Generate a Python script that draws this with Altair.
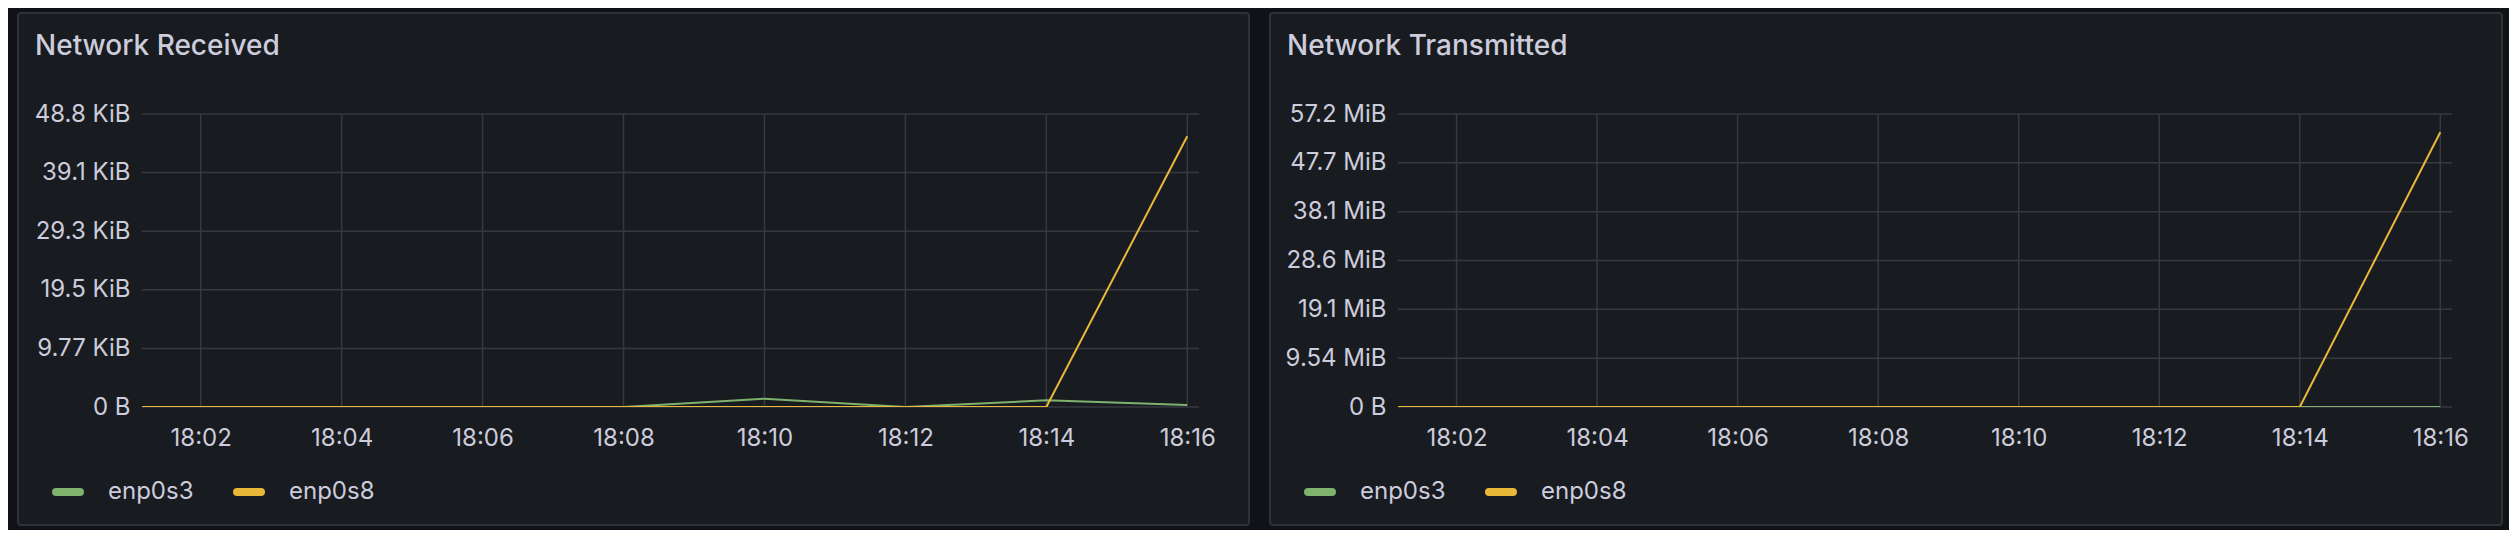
import json
import altair as alt
import pandas as pd

# ---------------- data ----------------
times = ["18:00", "18:02", "18:04", "18:06", "18:08", "18:10", "18:12", "18:14", "18:16"]
rx_enp0s3 = [0, 0, 0, 0, 0, 1420, 0, 1140, 340]
rx_enp0s8 = [0, 0, 0, 0, 0, 0, 0, 0, 46200]
tx_enp0s3 = [0, 0, 0, 0, 0, 0, 0, 0, 0]
tx_enp0s8 = [0, 0, 0, 0, 0, 0, 0, 0, 56250000]

series = ["enp0s3", "enp0s8"]
series_colors = ["#7EB26D", "#EAB839"]

panel_titles = ["Network Received", "Network Transmitted"]
x_domain = ["18:01:10", "18:16:10"]
x_tick_labels = ["18:02", "18:04", "18:06", "18:08", "18:10", "18:12", "18:14", "18:16"]
rx_tick_values = [0, 10000, 20000, 30000, 40000, 50000]
rx_tick_labels = ["0 B", "9.77 KiB", "19.5 KiB", "29.3 KiB", "39.1 KiB", "48.8 KiB"]
tx_tick_values = [0, 10000000, 20000000, 30000000, 40000000, 50000000, 60000000]
tx_tick_labels = ["0 B", "9.54 MiB", "19.1 MiB", "28.6 MiB", "38.1 MiB", "47.7 MiB", "57.2 MiB"]

# ---------------- style ----------------
PAGE_BG = "#111217"
PANEL_BG = "#181b1f"
PANEL_BORDER = "#2f3136"
GRID = "#37393e"
TEXT = "#ccccdc"
FONT = "Inter"
PLOT_H = 293

# rounded "pill" swatch drawn as a stroked thin rounded rectangle
PILL = ("M-0.857,-0.143 L0.857,-0.143 A0.143,0.143 0 0 1 0.857,0.143 "
        "L-0.857,0.143 A0.143,0.143 0 0 1 -0.857,-0.143 Z")


def to_min(s):
    p = s.split(":")
    m = (int(p[0]) - 18) * 60 + int(p[1])
    if len(p) > 2:
        m += int(p[2]) / 60.0
    return m


x_tick_values = [to_min(t) for t in x_tick_labels]
x_dom = [to_min(t) for t in x_domain]
x_label_expr = json.dumps(x_tick_labels) + "[indexof(" + json.dumps(x_tick_values) + ", datum.value)]"


def panel(title, vals_a, vals_b, y_values, y_labels, width, rect_left, title_x, legend_x):
    df = pd.DataFrame({
        "minute": [to_min(t) for t in times] * 2,
        "iface": [series[0]] * len(times) + [series[1]] * len(times),
        "bytes": list(vals_a) + list(vals_b),
    })
    y_label_expr = json.dumps(y_labels) + "[indexof(" + json.dumps(y_values) + ", datum.value)]"

    x_axis = alt.Axis(values=x_tick_values, labelExpr=x_label_expr, title=None, grid=False,
                      ticks=False, domain=False, labelFont=FONT, labelFontSize=24,
                      labelColor=TEXT, labelPadding=19, labelFlush=False, zindex=1)
    y_axis = alt.Axis(values=y_values, labelExpr=y_label_expr, title=None, grid=False,
                      ticks=False, domain=False, labelFont=FONT, labelFontSize=24,
                      labelColor=TEXT, labelPadding=12, zindex=1)
    x_scale = alt.Scale(domain=x_dom, nice=False, zero=False)
    y_scale = alt.Scale(domain=[y_values[0], y_values[-1]], nice=False)

    bg = alt.Chart(alt.InlineData(values=[{}])).mark_rect(
        fill=PANEL_BG, stroke=PANEL_BORDER, strokeWidth=2, cornerRadius=3
    ).encode(
        x=alt.value(rect_left), x2=alt.value(width + 50),
        y=alt.value(-101), y2=alt.value(PLOT_H + 118),
    )

    grid_x = alt.Chart(pd.DataFrame({"minute": x_tick_values})).mark_rule(
        color=GRID, strokeWidth=1.5
    ).encode(x=alt.X("minute:Q", scale=x_scale, axis=x_axis))

    grid_y = alt.Chart(pd.DataFrame({"bytes": y_values})).mark_rule(
        color=GRID, strokeWidth=1.5
    ).encode(y=alt.Y("bytes:Q", scale=y_scale, axis=y_axis))

    lines = alt.Chart(df).mark_line(clip=True).encode(
        x=alt.X("minute:Q", scale=x_scale, axis=x_axis),
        y=alt.Y("bytes:Q", scale=y_scale, axis=y_axis),
        color=alt.Color(
            "iface:N",
            scale=alt.Scale(domain=series, range=series_colors),
            legend=alt.Legend(
                orient="none", legendX=legend_x, legendY=362, direction="horizontal",
                title=None, symbolType=PILL, symbolSize=784, symbolStrokeWidth=4,
                symbolOpacity=1, labelFont=FONT, labelFontSize=24, labelColor=TEXT,
                labelOffset=24, columnPadding=33, padding=0, zindex=1,
            ),
        ),
        strokeWidth=alt.value(2),
        order=alt.Order("minute:Q"),
    )

    ttl = alt.Chart(alt.InlineData(values=[{}])).mark_text(
        align="left", baseline="alphabetic", font=FONT, fontSize=28, fontWeight=500, color=TEXT
    ).encode(x=alt.value(title_x), y=alt.value(-59), text=alt.value(title))

    return alt.layer(bg, grid_x, grid_y, lines, ttl).properties(width=width, height=PLOT_H)


left = panel(panel_titles[0], rx_enp0s3, rx_enp0s8, rx_tick_values, rx_tick_labels,
             1057, -124, -107, -90)
right = panel(panel_titles[1], tx_enp0s3, tx_enp0s8, tx_tick_values, tx_tick_labels,
              1054, -128, -111, -94)

chart = alt.hconcat(left, right, spacing=199, bounds="flush").resolve_scale(
    color="independent"
).configure(
    background=PAGE_BG,
    padding={"left": 9, "top": 4, "right": 6, "bottom": 4},
).configure_view(stroke=None)

chart.save("out.html", embed_options={"renderer": "svg", "actions": False})
